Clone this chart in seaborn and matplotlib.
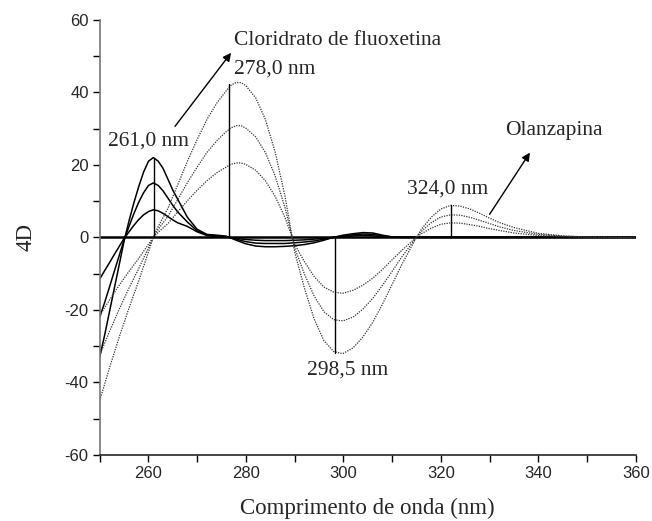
import numpy as np
import matplotlib.pyplot as plt
import seaborn as sns
import pandas as pd

sns.set_style('ticks')
plt.rcParams['font.family'] = ['Liberation Serif', 'DejaVu Serif']
plt.rcParams['axes.unicode_minus'] = False

# fluoxetine (solid) 4th derivative spectra, three concentrations
x_flx = [250, 251, 252, 253, 254, 255, 256, 257, 258, 259, 260, 261, 262, 263, 264, 265, 266,
         268, 270, 272, 274, 276, 278, 280, 282, 284, 286, 288, 290, 292, 294, 296, 298, 300,
         302, 304, 306, 308, 310, 312, 320, 340, 360]
flx_1 = [-11.5, -9.2, -7, -4.7, -2.5, -0.3, 1.5, 3.3, 4.9, 6.2, 7.1, 7.6, 7.3, 6.6, 5.7, 4.8, 4,
         3.0, 1.5, 0.5, 0.2, 0.1, -0.3, -0.6, -0.8, -0.9, -0.9, -0.9, -0.8, -0.7, -0.5, -0.3, 0, 0.2,
         0.4, 0.5, 0.4, 0.2, 0.1, 0, 0, 0, 0]
flx_2 = [-22, -18, -13.7, -9.3, -5, -0.7, 3, 6.5, 9.7, 12.3, 14.3, 15, 14.3, 12.8, 10.8, 8.8, 7,
         4.2, 1.8, 0.6, 0.4, 0.2, -0.5, -1.2, -1.6, -1.7, -1.7, -1.7, -1.5, -1.3, -1, -0.5, 0, 0.4,
         0.7, 0.9, 0.8, 0.4, 0.1, 0, 0, 0, 0]
flx_3 = [-33, -27, -20.5, -14, -7.5, -1, 4.5, 9.5, 14, 18, 21, 22, 21, 19, 16, 13, 10.5,
         5.5, 2.2, 0.8, 0.6, 0.3, -0.8, -1.8, -2.4, -2.6, -2.6, -2.5, -2.3, -2, -1.5, -0.8, 0, 0.6,
         1, 1.3, 1.2, 0.6, 0.1, 0, 0, 0, 0]

# olanzapine (dotted)
x_olz = [250, 252, 254, 256, 258, 260, 261, 262, 264, 266, 268, 270, 272, 274, 276, 277, 278, 279,
         280, 282, 284, 286, 288, 289.5, 290, 292, 294, 296, 298, 299.5, 300, 302, 304, 306, 308,
         310, 312, 314, 315, 316, 318, 320, 322, 324, 326, 328, 330, 332, 335, 340, 345, 350, 355, 360]
olz_1 = [-21.5, -17.3, -13.2, -9.4, -5.8, -1.9, 0, 1.4, 3.8, 7, 10.1, 13, 15.6, 17.8, 19.4, 20.2, 20.5, 20.5,
         20.1, 18.5, 15.6, 11.3, 5.5, 0, -1.9, -6.7, -10.8, -13.7, -15.1, -15.4, -15.4, -14.6, -13.2, -11.3, -8.9,
         -6.2, -3.6, -1.2, 0, 1, 2.5, 3.6, 4, 3.9, 3.5, 3, 2.4, 1.9, 1.2, 0.5, 0.2, 0, 0, 0]
olz_2 = [-32.5, -26, -19.8, -14, -8.6, -2.9, 0, 2.2, 5.8, 10.4, 15.1, 19.4, 23.4, 26.6, 29.2, 30.2, 30.8, 30.8,
         30.1, 27.7, 23.4, 16.9, 8.3, 0, -2.9, -10.1, -16.2, -20.5, -22.7, -23, -23, -22, -19.8, -16.9, -13.3,
         -9.4, -5.4, -1.8, 0, 1.6, 4, 5.6, 6.2, 6.1, 5.5, 4.7, 3.8, 2.9, 1.9, 0.8, 0.3, 0.1, 0, 0]
olz_3 = [-45, -36, -27.5, -19.5, -12, -4, 0, 3, 8, 14.5, 21, 27, 32.5, 37, 40.5, 42, 42.7, 42.7,
         41.8, 38.5, 32.5, 23.5, 11.5, 0, -4, -14, -22.5, -28.5, -31.5, -32, -32, -30.5, -27.5, -23.5, -18.5,
         -13, -7.5, -2.5, 0, 2.2, 5.5, 7.8, 8.8, 8.6, 7.8, 6.6, 5.3, 4.1, 2.7, 1.1, 0.4, 0.1, 0, 0]

# marker lines at the labelled wavelengths: (x, top of line)
marker_x = [261.2, 276.5, 298.3, 322.0]
marker_y = [22, 42.3, -31.8, 8.8]

fig = plt.figure(figsize=(6.52, 5.21), dpi=100)
ax = fig.add_axes([0.153, 0.127, 0.822, 0.835])

for ys in [flx_1, flx_2, flx_3]:
    sns.lineplot(x=x_flx, y=ys, ax=ax, color='black', lw=1.1, estimator=None, sort=False)
for ys in [olz_1, olz_2, olz_3]:
    sns.lineplot(x=x_olz, y=ys, ax=ax, color='#333333', lw=0.9, estimator=None, sort=False,
                 linestyle=(0, (1, 1)))

ax.axhline(0, color='black', lw=1.8, zorder=1)
for mx, my in zip(marker_x, marker_y):
    ax.plot([mx, mx], [0, my], color='black', lw=1.0)

fs = 15.5
ax.text(251.6, 26.5, '261,0 nm', fontsize=fs, va='center')
ax.text(277.5, 46.3, '278,0 nm', fontsize=fs, va='center')
ax.text(277.5, 54.3, 'Cloridrato de fluoxetina', fontsize=fs, va='center')
ax.text(292.6, -36.5, '298,5 nm', fontsize=fs, va='center')
ax.text(313.0, 13.4, '324,0 nm', fontsize=fs, va='center')
ax.text(333.2, 29.5, 'Olanzapina', fontsize=fs, va='center')

ax.annotate('', xy=(277.3, 51.5), xytext=(265.1, 30.0),
            arrowprops=dict(arrowstyle='-|>', color='black', lw=1.0, mutation_scale=12))
ax.annotate('', xy=(338.6, 24.0), xytext=(329.7, 5.7),
            arrowprops=dict(arrowstyle='-|>', color='black', lw=1.0, mutation_scale=12))

ax.set_xlim(250, 360)
ax.set_ylim(-60, 60)
ax.set_xticks(np.arange(260, 361, 20))
ax.set_xticks(np.arange(250, 361, 10), minor=True)
ax.set_yticks(np.arange(-60, 61, 20))
ax.set_yticks(np.arange(-60, 61, 10), minor=True)
for lab in ax.get_xticklabels() + ax.get_yticklabels():
    lab.set_fontfamily('Liberation Sans')
    lab.set_fontsize(12)
ax.tick_params(which='both', direction='out', length=5, width=1.0, color='black')
ax.tick_params(which='major', pad=3)
sns.despine(ax=ax)
ax.spines['left'].set_color('#777777')
ax.spines['left'].set_linewidth(1.2)
ax.spines['bottom'].set_linewidth(1.2)

ax.set_xlabel('Comprimento de onda (nm)', fontsize=16.5, labelpad=12)
ax.set_ylabel('4D', fontsize=16.5, labelpad=20)

fig.savefig('out.png', dpi=100)
